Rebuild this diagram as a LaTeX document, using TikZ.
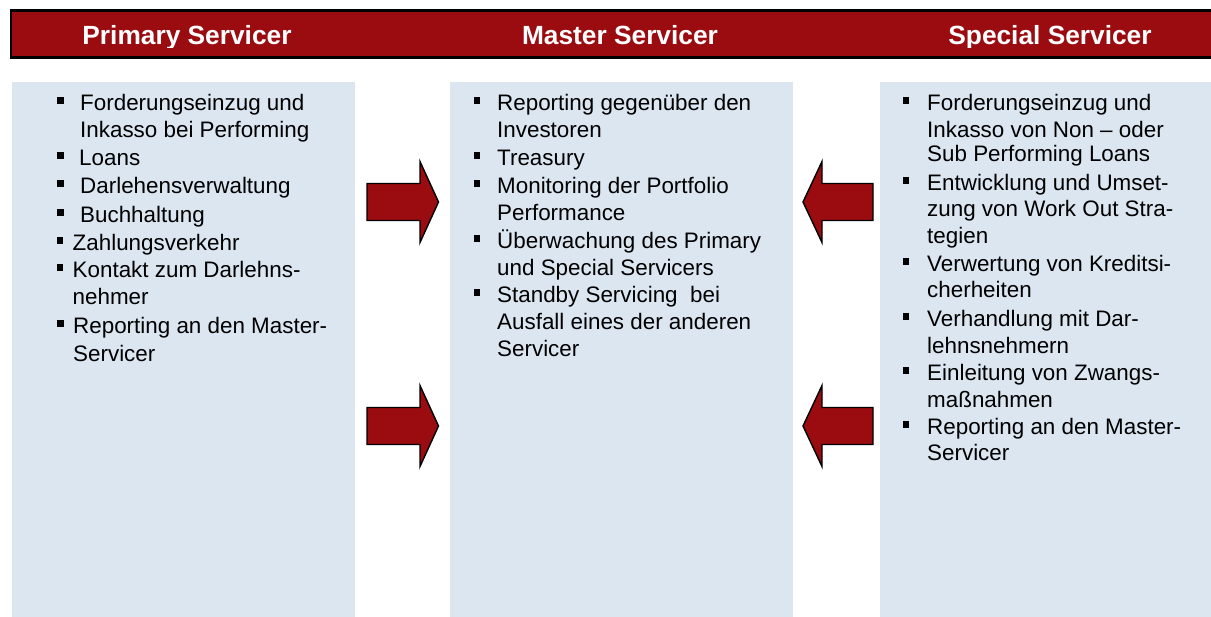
\documentclass[tikz,border=0pt]{standalone}
\usepackage{fontspec}
\setmainfont{Liberation Sans}
\definecolor{svred}{RGB}{155,12,16}
\definecolor{svbox}{RGB}{220,230,241}
\newcommand{\svline}[4]{\node[txt] (#1) at (#2,#3) {#4};}
\newcommand{\svbul}[5]{\fill ({#2},{#3-7}) rectangle ++(6.5,-6.5); \node[txt] (#1) at (#4,#3) {#5};}
\begin{document}
\begin{tikzpicture}[x=1pt,y=-1pt,
  txt/.style={anchor=base west, inner sep=0pt, font=\fontsize{22.4}{25}\selectfont, text=black},
  hdrtxt/.style={anchor=base, inner sep=0pt, font=\fontsize{26.3}{30}\selectfont\bfseries, text=white},
  panel/.style={fill=svbox, draw=none, anchor=north west, minimum height=540pt, inner sep=0pt},
  bigarrow/.style={fill=svred, draw=black, line width=1.4pt, line join=miter}]
\clip (0,0) rectangle (1211,617);
\fill[white] (0,0) rectangle (1211,617);
% header bar
\node[fill=svred, draw=black, line width=2.4pt, anchor=north west, minimum width=1230pt, minimum height=46.7pt, inner sep=0pt] (bar) at (9.5,9.5) {};
\begin{scope}
\clip (0,9) rectangle (1211,47.3);
\node[hdrtxt] (hp) at (187,45) {Primary Servicer};
\node[hdrtxt] (hm) at (620,45) {Master Servicer};
\node[hdrtxt] (hs) at (1050,45) {Special Servicer};
\end{scope}
% panels
\node[panel, minimum width=343.5pt] (pleft) at (11.5,82) {};
\node[panel, minimum width=343pt] (pmid) at (450,82) {};
\node[panel, minimum width=340pt] (pright) at (879.5,82) {};
% arrows
\foreach \yc in {202,426}{
  \draw[bigarrow] (367,{\yc-18.5}) -- (420,{\yc-18.5}) -- (420,{\yc-40.5}) -- (438.5,\yc) -- (420,{\yc+40.5}) -- (420,{\yc+18.5}) -- (367,{\yc+18.5}) -- cycle;
  \draw[bigarrow] (873,{\yc-18.5}) -- (822,{\yc-18.5}) -- (822,{\yc-40.5}) -- (803,\yc) -- (822,{\yc+40.5}) -- (822,{\yc+18.5}) -- (873,{\yc+18.5}) -- cycle;
}
% left panel text
\svbul{L1}{57}{111}{80}{Forderungseinzug und}
\svline{L2}{80}{138}{Inkasso bei Performing}
\svbul{L3}{57}{166}{79}{Loans}
\svbul{L4}{57}{194}{80}{Darlehensverwaltung}
\svbul{L5}{57}{223}{80}{Buchhaltung}
\svbul{L6}{56.5}{251}{72.5}{Zahlungsverkehr}
\svbul{L7}{56.5}{278}{72.5}{Kontakt zum Darlehns-}
\svline{L8}{72.5}{305}{nehmer}
\svbul{L9}{57}{334}{73}{Reporting an den Master-}
\svline{L10}{73}{362}{Servicer}
% middle panel text
\svbul{M1}{473.5}{111}{497}{Reporting gegenüber den}
\svline{M2}{497}{138}{Investoren}
\svbul{M3}{473.5}{166}{497}{Treasury}
\svbul{M4}{473.5}{194}{497}{Monitoring der Portfolio}
\svline{M5}{497}{221}{Performance}
\svbul{M6}{473.5}{249}{497}{Überwachung des Primary}
\svline{M7}{497}{276}{und Special Servicers}
\svbul{M8}{473.5}{303}{497}{Standby Servicing\hspace{6.2pt} bei}
\svline{M9}{497}{330}{Ausfall eines der anderen}
\svline{M10}{497}{357}{Servicer}
% right panel text
\svbul{R1}{902.5}{111}{927}{Forderungseinzug und}
\svline{R2}{927}{138}{Inkasso von Non – oder}
\svline{R3}{927}{162}{Sub Performing Loans}
\svbul{R4}{902.5}{191}{927}{Entwicklung und Umset-}
\svline{R5}{927}{217}{zung von Work Out Stra-}
\svline{R6}{927}{244}{tegien}
\svbul{R7}{902.5}{272}{927}{Verwertung von Kreditsi-}
\svline{R8}{927}{298}{cherheiten}
\svbul{R9}{902.5}{327}{927}{Verhandlung mit Dar-}
\svline{R10}{927}{354}{lehnsnehmern}
\svbul{R11}{902.5}{381}{927}{Einleitung von Zwangs-}
\svline{R12}{927}{408}{maßnahmen}
\svbul{R13}{902.5}{435}{927}{Reporting an den Master-}
\svline{R14}{927}{461}{Servicer}
\end{tikzpicture}
\end{document}
